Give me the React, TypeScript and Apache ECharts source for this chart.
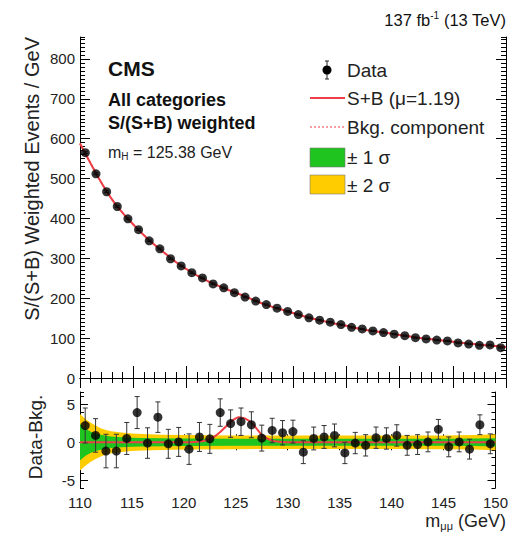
import React, { useEffect, useRef } from "react";
import * as echarts from "echarts";

// Bin centres (GeV)
const massBins = [
  110.5, 111.5, 112.5, 113.5, 114.5, 115.5, 116.5, 117.5, 118.5, 119.5,
  120.5, 121.5, 122.5, 123.5, 124.5, 125.5, 126.5, 127.5, 128.5, 129.5,
  130.5, 131.5, 132.5, 133.5, 134.5, 135.5, 136.5, 137.5, 138.5, 139.5,
  140.5, 141.5, 142.5, 143.5, 144.5, 145.5, 146.5, 147.5, 148.5, 149.5,
];
// Weighted events / GeV
const eventValues = [
  565, 512, 467, 430, 399, 372, 344, 324, 299, 281,
  264, 251, 236, 226, 214, 203, 193, 184, 175, 167,
  159, 151, 145, 140, 134, 127, 123, 118, 114, 110,
  106, 101, 98, 95, 93, 88, 85, 82, 83, 76,
];
// Data - Bkg
const residualValues = [
  2.2, 0.9, -1.15, -1.15, 0.5, 3.9, -0.1, 3.3, -0.2, 0.05,
  -0.9, 0.7, 0.45, 3.9, 2.45, 2.7, 2.3, 0.55, 1.55, 1.25,
  1.4, -1.3, 0.5, 0.7, 0.9, -1.4, -0.1, -0.4, 0.6, 0.5,
  0.9, -0.4, -0.3, 0.05, 1.7, -0.6, 0.05, -0.9, 2.3, -0.2,
];
const errorValues = [
  2.3, 2.2, 2.2, 2.2, 2.1, 2.1, 2.0, 2.0, 1.9, 1.9,
  2.0, 1.9, 1.9, 1.8, 1.8, 1.8, 1.7, 1.7, 1.6, 1.6,
  1.5, 1.5, 1.5, 1.5, 1.5, 1.4, 1.4, 1.4, 1.4, 1.4,
  1.4, 1.3, 1.3, 1.3, 1.3, 1.3, 1.3, 1.3, 1.3, 1.3,
];
// S+B fit curve
const fitMass = [
  110, 111, 112, 113, 114, 115, 116, 117, 118, 119, 120, 121, 122, 123, 124,
  125, 126, 127, 128, 129, 130, 131, 132, 133, 134, 135, 136, 137, 138, 139,
  140, 141, 142, 143, 144, 145, 146, 147, 148, 149, 150,
];
const fitValues = [
  588, 538, 490, 448, 414, 385, 358, 334, 312, 291, 273, 257, 243, 231, 220,
  210, 199, 188, 179, 171, 163, 155, 148, 142, 136, 131, 125, 120, 116, 112,
  108, 104, 100, 97, 94, 91, 88, 85, 82, 80, 78,
];
// Signal component (S+B - B)
const signalMass = [
  110, 120, 121, 121.5, 122, 122.5, 123, 123.5, 124, 124.5, 125, 125.3, 125.7,
  126, 126.5, 127, 127.5, 128, 128.5, 129, 129.5, 130, 150,
];
const signalValues = [
  0, 0, 0.05, 0.1, 0.2, 0.4, 0.8, 1.35, 2.0, 2.7, 3.15, 3.3, 3.2,
  3.05, 2.6, 1.8, 1.0, 0.5, 0.22, 0.1, 0.04, 0, 0,
];
// Background uncertainty bands (half widths)
const bandMass = [110, 110.5, 111, 111.5, 112, 112.5, 113, 114, 115, 116, 118, 120, 125, 130, 135, 140, 145, 148, 150];
const band2Sigma = [3.7, 3.1, 2.6, 2.2, 1.85, 1.6, 1.45, 1.28, 1.16, 1.08, 1.0, 0.95, 0.9, 0.88, 0.88, 0.88, 0.9, 0.95, 1.05];
const band1Sigma = [2.4, 1.8, 1.4, 1.15, 0.98, 0.85, 0.76, 0.66, 0.6, 0.56, 0.52, 0.5, 0.47, 0.45, 0.45, 0.45, 0.46, 0.49, 0.54];

const mainYLabels = [0, 100, 200, 300, 400, 500, 600, 700, 800];
const lowerYLabels = [-5, 0, 5];

const FONT = "Liberation Sans";
const RED = "#ee3f46";
const GREEN = "#1fc41f";
const YELLOW = "#ffcc00";

const errorBarSeries = (name: string, xAxisIndex: number, yAxisIndex: number, vals: number[]) => ({
  name,
  type: "custom",
  xAxisIndex,
  yAxisIndex,
  z: 5,
  encode: { x: 0, y: 1 },
  data: massBins.map((m, i) => [m, vals[i], errorValues[i]]),
  renderItem: (params: any, api: any) => {
    const x = api.value(0);
    const y = api.value(1);
    const e = api.value(2);
    const top = api.coord([x, y + e]);
    const bot = api.coord([x, y - e]);
    const st = { stroke: "#333", lineWidth: 1 };
    const cap = 2.5;
    return {
      type: "group",
      children: [
        { type: "line", shape: { x1: top[0], y1: top[1], x2: bot[0], y2: bot[1] }, style: st },
        { type: "line", shape: { x1: top[0] - cap, y1: top[1], x2: top[0] + cap, y2: top[1] }, style: st },
        { type: "line", shape: { x1: bot[0] - cap, y1: bot[1], x2: bot[0] + cap, y2: bot[1] }, style: st },
      ],
    };
  },
});

const xAxisBase = (gridIndex: number, position: string, showLabel: boolean, major: number, minor: number) => ({
  type: "value",
  gridIndex,
  position,
  min: 110,
  max: 150,
  interval: 5,
  axisLine: { show: true, lineStyle: { color: "#000", width: 1 } },
  axisTick: { show: true, inside: true, length: major, lineStyle: { color: "#000" } },
  minorTick: { show: true, splitNumber: 5, length: minor, lineStyle: { color: "#000" } },
  axisLabel: { show: showLabel, color: "#222", fontSize: 15, fontFamily: FONT, margin: 7 },
  splitLine: { show: false },
});

const yMajor = (gridIndex: number, position: string, min: number, max: number, vals: number[], showLabel: boolean, len: number) => ({
  type: "value",
  gridIndex,
  position,
  min,
  max,
  axisLine: { show: true, onZero: false, lineStyle: { color: "#000", width: 1 } },
  axisTick: { show: true, inside: true, length: len, customValues: vals, lineStyle: { color: "#000" } },
  axisLabel: { show: showLabel, customValues: vals, color: "#222", fontSize: 15, fontFamily: FONT, margin: 5 },
  splitLine: { show: false },
});

const yMinor = (gridIndex: number, position: string, min: number, max: number, interval: number, len: number) => ({
  type: "value",
  gridIndex,
  position,
  min,
  max,
  interval,
  axisLine: { show: false, onZero: false },
  axisTick: { show: true, inside: true, length: len, lineStyle: { color: "#000" } },
  axisLabel: { show: false },
  splitLine: { show: false },
});

export default function App() {
  const ref = useRef<HTMLDivElement>(null);
  useEffect(() => {
    document.body.style.margin = "0";
    if (!ref.current) return;
    const chart = echarts.init(ref.current, undefined, { renderer: "svg" });
    const option: any = {
      animation: false,
      textStyle: { fontFamily: FONT },
      grid: [
        { left: 80, right: 5, top: 37, height: 341 },
        { left: 80, right: 5, top: 392, height: 96 },
      ],
      xAxis: [
        xAxisBase(0, "bottom", false, 12, 6),
        xAxisBase(0, "top", false, 10, 5),
        xAxisBase(1, "bottom", true, 8, 4),
        xAxisBase(1, "top", false, 8, 4),
      ],
      yAxis: [
        yMajor(0, "left", 0, 855, mainYLabels, true, 10),
        yMinor(0, "left", 0, 855, 10, 5),
        yMajor(0, "right", 0, 855, mainYLabels, false, 10),
        yMinor(0, "right", 0, 855, 10, 5),
        yMajor(1, "left", -6, 6.6, lowerYLabels, true, 8),
        yMinor(1, "left", -6, 6.6, 1, 4),
        yMajor(1, "right", -6, 6.6, lowerYLabels, false, 8),
        yMinor(1, "right", -6, 6.6, 1, 4),
      ],
      series: [
        {
          name: "Bkg. component",
          type: "line",
          xAxisIndex: 0,
          yAxisIndex: 0,
          smooth: true,
          symbol: "none",
          lineStyle: { color: RED, width: 1.5, type: [2, 2] },
          data: fitMass.map((m, i) => [m, fitValues[i]]),
        },
        {
          name: "S+B",
          type: "line",
          xAxisIndex: 0,
          yAxisIndex: 0,
          smooth: true,
          symbol: "none",
          lineStyle: { color: RED, width: 2 },
          data: fitMass.map((m, i) => [m, fitValues[i]]),
        },
        errorBarSeries("err-main", 0, 0, eventValues),
        {
          name: "Data",
          type: "scatter",
          xAxisIndex: 0,
          yAxisIndex: 0,
          symbolSize: 9,
          z: 6,
          itemStyle: { color: "#000" },
          data: massBins.map((m, i) => [m, eventValues[i]]),
        },
        // uncertainty bands drawn as polygons through the axis scales
        {
          name: "bands",
          type: "custom",
          xAxisIndex: 2,
          yAxisIndex: 4,
          z: 1,
          encode: { x: 0, y: 1 },
          data: bandMass.map((m, i) => [m, band2Sigma[i], band1Sigma[i]]),
          renderItem: (params: any, api: any) => {
            if (params.dataIndexInside !== 0) return null;
            const n = params.dataInsideLength;
            const up2: number[][] = [];
            const lo2: number[][] = [];
            const up1: number[][] = [];
            const lo1: number[][] = [];
            for (let i = 0; i < n; i++) {
              const x = api.value(0, i);
              const s2 = api.value(1, i);
              const s1 = api.value(2, i);
              up2.push(api.coord([x, s2]));
              lo2.push(api.coord([x, -s2]));
              up1.push(api.coord([x, s1]));
              lo1.push(api.coord([x, -s1]));
            }
            return {
              type: "group",
              children: [
                { type: "polygon", shape: { points: up2.concat(lo2.reverse()) }, style: { fill: YELLOW } },
                { type: "polygon", shape: { points: up1.concat(lo1.reverse()) }, style: { fill: GREEN } },
              ],
            };
          },
        },
        {
          name: "signal",
          type: "line",
          xAxisIndex: 2,
          yAxisIndex: 4,
          smooth: 0.3,
          symbol: "none",
          z: 4,
          lineStyle: { color: RED, width: 2 },
          data: signalMass.map((m, i) => [m, signalValues[i]]),
        },
        errorBarSeries("err-res", 2, 4, residualValues),
        {
          name: "Data-res",
          type: "scatter",
          xAxisIndex: 2,
          yAxisIndex: 4,
          symbolSize: 9,
          z: 6,
          itemStyle: { color: "#000" },
          data: massBins.map((m, i) => [m, residualValues[i]]),
        },
      ],
      graphic: [
        {
          type: "text", x: 506, y: 20,
          style: {
            text: "{a|137 fb}{s|-1}{a| (13 TeV)}",
            align: "right", verticalAlign: "middle",
            rich: {
              a: { fontSize: 16.5, fontFamily: FONT, fill: "#111" },
              s: { fontSize: 10, fontFamily: FONT, fill: "#111", padding: [0, 0, 9, 0] },
            },
          },
        },
        {
          type: "text", x: 32, y: 37, rotation: Math.PI / 2,
          style: { text: "S/(S+B) Weighted Events / GeV", fontSize: 20, fontFamily: FONT, fill: "#222", align: "right", verticalAlign: "middle" },
        },
        {
          type: "text", x: 35, y: 437, rotation: Math.PI / 2,
          style: { text: "Data-Bkg.", fontSize: 19, fontFamily: FONT, fill: "#222", align: "center", verticalAlign: "middle" },
        },
        {
          type: "text", x: 506, y: 521,
          style: {
            text: "{a|m}{s|μμ}{a| (GeV)}",
            align: "right", verticalAlign: "middle",
            rich: {
              a: { fontSize: 18, fontFamily: FONT, fill: "#222" },
              s: { fontSize: 11, fontFamily: FONT, fill: "#222", padding: [10, 0, 0, 0] },
            },
          },
        },
        { type: "text", x: 108, y: 68, style: { text: "CMS", fontSize: 21, fontWeight: "bold", fontFamily: FONT, fill: "#111", verticalAlign: "middle" } },
        { type: "text", x: 108, y: 100, style: { text: "All categories", fontSize: 18, fontWeight: "bold", fontFamily: FONT, fill: "#111", verticalAlign: "middle" } },
        { type: "text", x: 108, y: 123, style: { text: "S/(S+B) weighted", fontSize: 18, fontWeight: "bold", fontFamily: FONT, fill: "#111", verticalAlign: "middle" } },
        {
          type: "text", x: 108, y: 152,
          style: {
            text: "{a|m}{s|H}{a| = 125.38 GeV}",
            verticalAlign: "middle",
            rich: {
              a: { fontSize: 16, fontFamily: FONT, fill: "#222" },
              s: { fontSize: 10, fontFamily: FONT, fill: "#222", padding: [8, 0, 0, 0] },
            },
          },
        },
        // legend
        { type: "line", shape: { x1: 327, y1: 61, x2: 327, y2: 79 }, style: { stroke: "#222", lineWidth: 1 } },
        { type: "line", shape: { x1: 325, y1: 61, x2: 329, y2: 61 }, style: { stroke: "#222", lineWidth: 1 } },
        { type: "line", shape: { x1: 325, y1: 79, x2: 329, y2: 79 }, style: { stroke: "#222", lineWidth: 1 } },
        { type: "circle", shape: { cx: 327, cy: 70, r: 4.5 }, style: { fill: "#000" } },
        { type: "text", x: 347, y: 70, style: { text: "Data", fontSize: 19, fontFamily: FONT, fill: "#222", verticalAlign: "middle" } },
        { type: "line", shape: { x1: 310, y1: 98, x2: 345, y2: 98 }, style: { stroke: RED, lineWidth: 2 } },
        { type: "text", x: 347, y: 98, style: { text: "S+B (μ=1.19)", fontSize: 19, fontFamily: FONT, fill: "#222", verticalAlign: "middle" } },
        { type: "line", shape: { x1: 310, y1: 127, x2: 345, y2: 127 }, style: { stroke: RED, lineWidth: 1.2, lineDash: [2, 2] } },
        { type: "text", x: 347, y: 127, style: { text: "Bkg. component", fontSize: 19, fontFamily: FONT, fill: "#222", verticalAlign: "middle" } },
        { type: "rect", shape: { x: 310, y: 148, width: 35, height: 19 }, style: { fill: GREEN, stroke: "#7a7a7a", lineWidth: 0.6 } },
        { type: "text", x: 347, y: 157, style: { text: "± 1 σ", fontSize: 19, fontFamily: FONT, fill: "#222", verticalAlign: "middle" } },
        { type: "rect", shape: { x: 310, y: 175, width: 35, height: 19 }, style: { fill: YELLOW, stroke: "#7a7a7a", lineWidth: 0.6 } },
        { type: "text", x: 347, y: 185, style: { text: "± 2 σ", fontSize: 19, fontFamily: FONT, fill: "#222", verticalAlign: "middle" } },
      ],
    };
    chart.setOption(option);
    return () => chart.dispose();
  }, []);
  return <div ref={ref} style={{ width: 511, height: 539 }} />;
}
